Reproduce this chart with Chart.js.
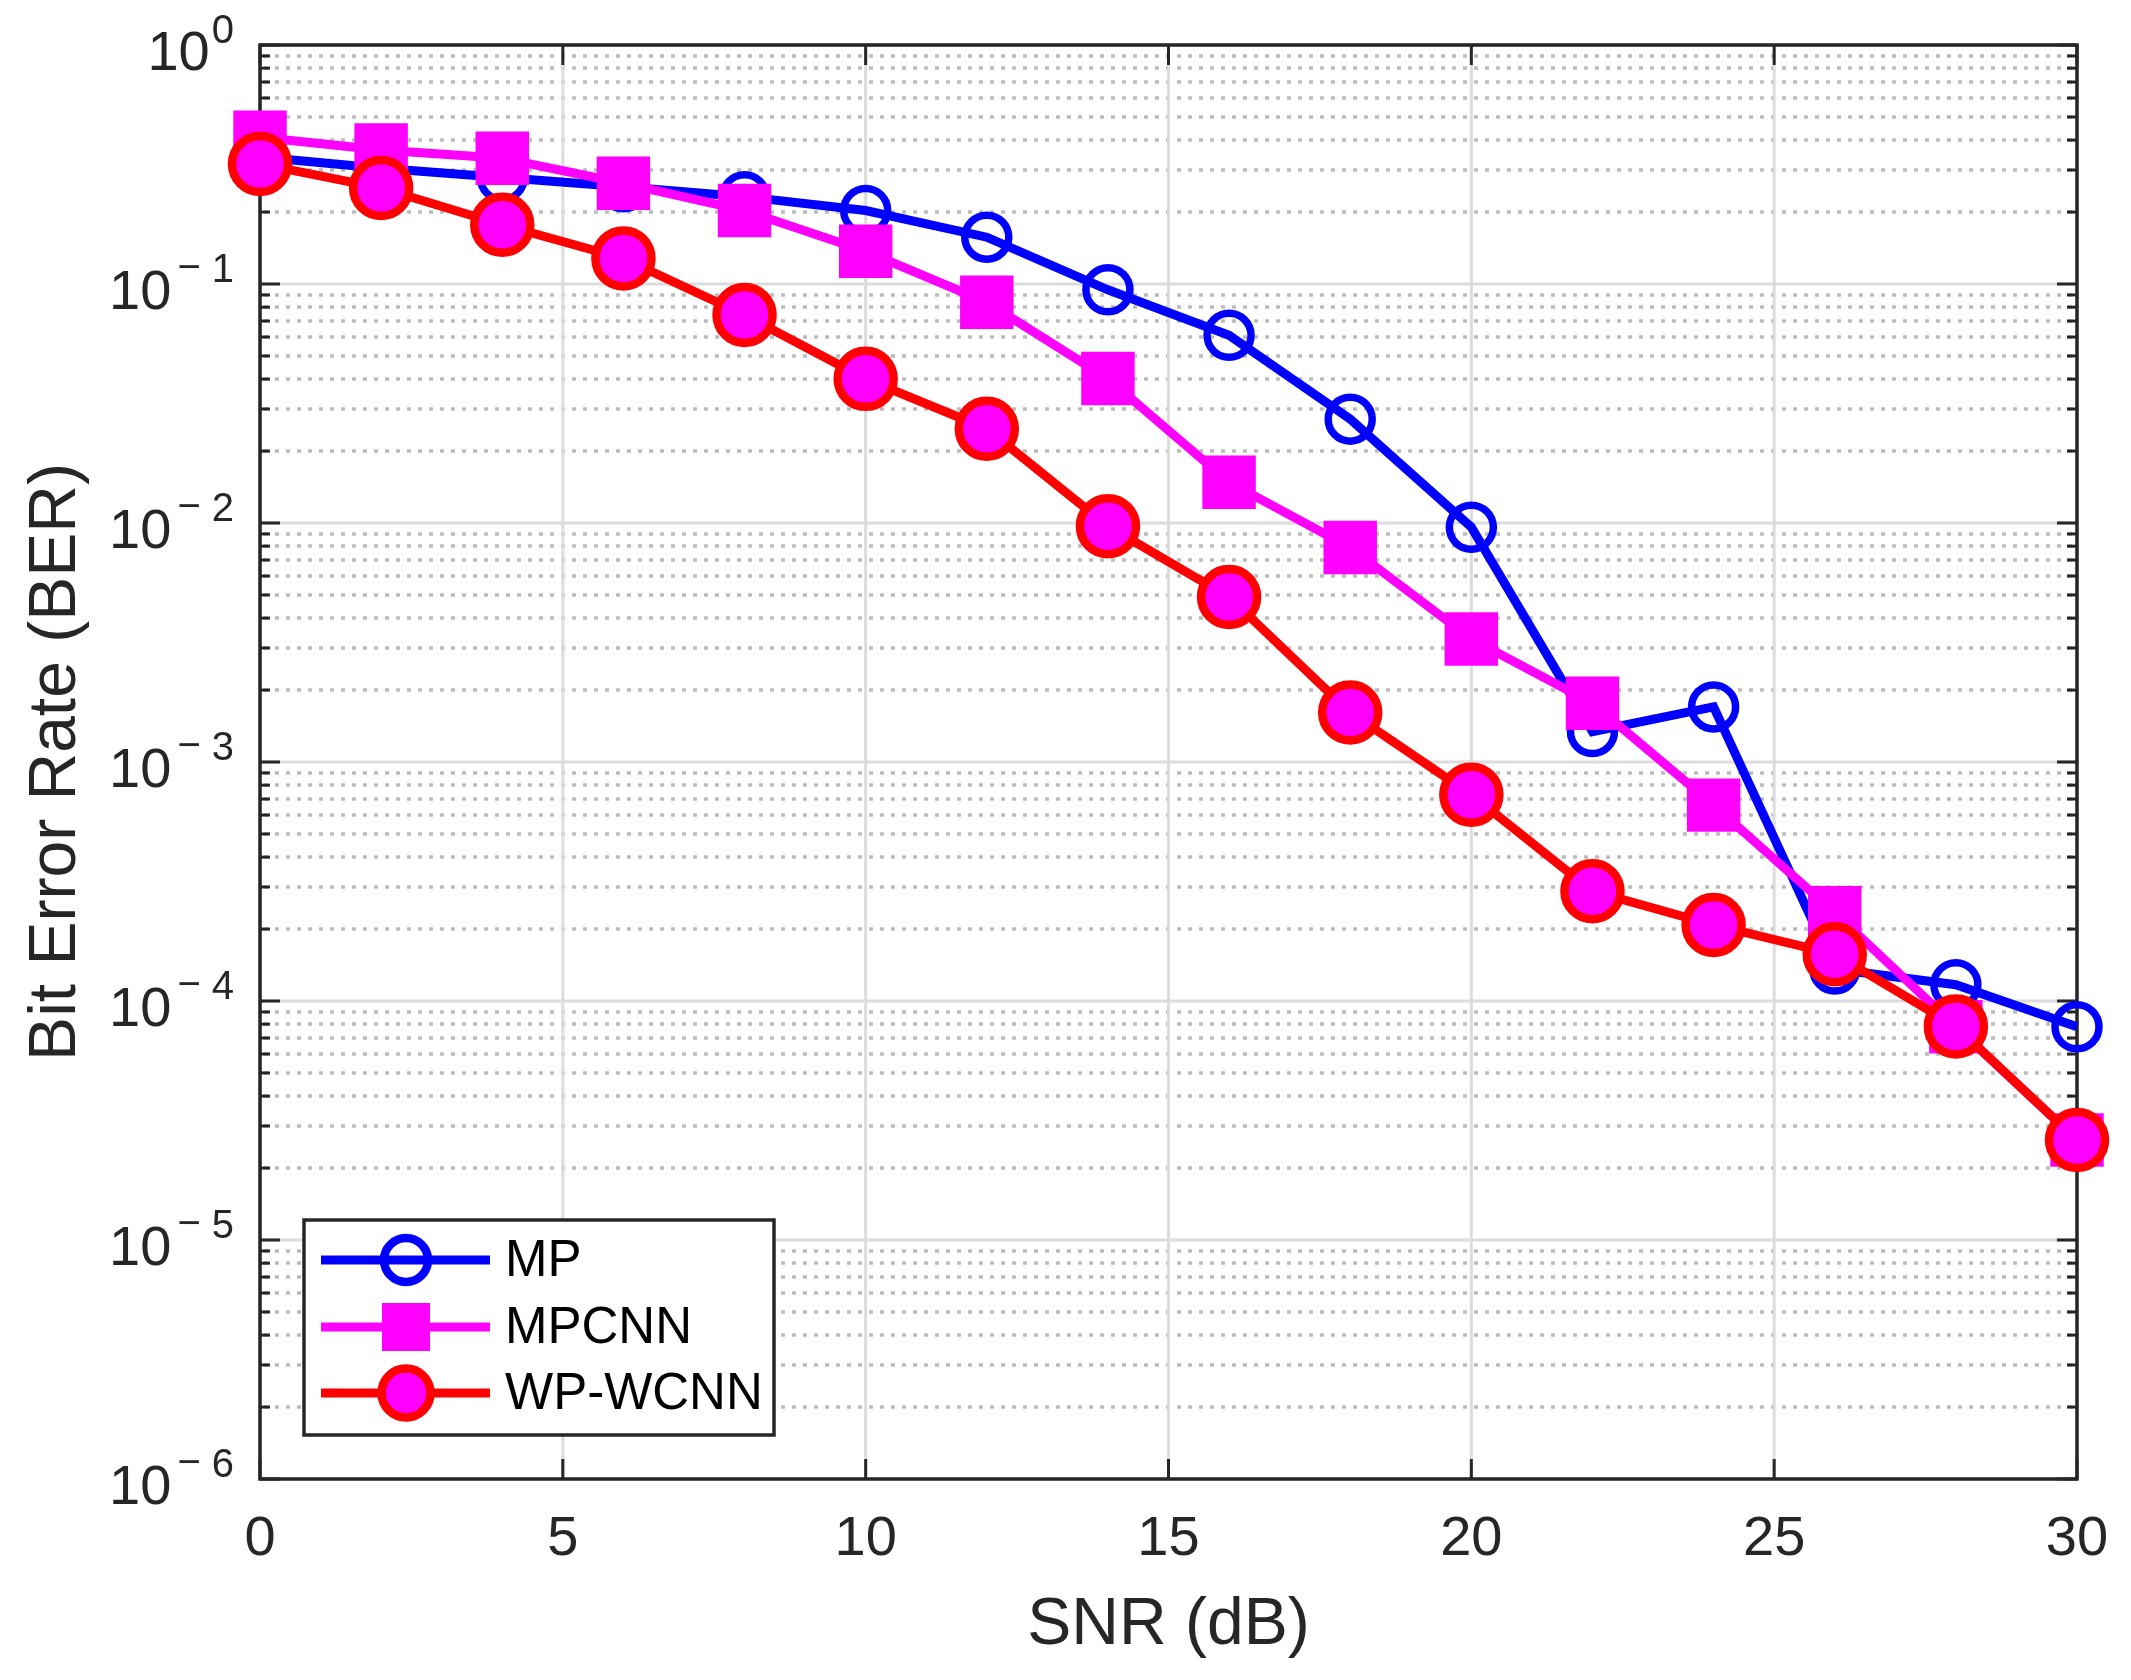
<!DOCTYPE html>
<html>
<head>
<meta charset="utf-8">
<script src="https://cdn.jsdelivr.net/npm/chart.js@4.4.1/dist/chart.umd.min.js"></script>
<style>
  html, body { margin: 0; padding: 0; background: #ffffff; }
  #wrap { width: 2131px; height: 1680px; }
  canvas { display: block; }
</style>
</head>
<body>
<div id="wrap"><canvas id="c" width="2131" height="1680" style="width:2131px;height:1680px"></canvas></div>
<script>
// ---- data ----
const snrDb = [0, 2, 4, 6, 8, 10, 12, 14, 16, 18, 20, 22, 24, 26, 28, 30];
const berMP = [0.34, 0.305, 0.279, 0.255, 0.232, 0.203, 0.157, 0.0946, 0.061, 0.0272, 0.0096, 0.00134, 0.0017, 0.000136, 0.000117, 0.000078];
const berMPCNN = [0.411, 0.364, 0.336, 0.264, 0.203, 0.137, 0.0838, 0.0402, 0.0148, 0.0079, 0.00327, 0.00176, 0.00066, 0.000234, 0.000078, 0.0000262];
const berWPWCNN = [0.318, 0.252, 0.177, 0.128, 0.0742, 0.0401, 0.0248, 0.0097, 0.0049, 0.00161, 0.00073, 0.000288, 0.000208, 0.000157, 0.0000783, 0.0000262];
const seriesNames = ['MP', 'MPCNN', 'WP-WCNN'];
const xTickValues = [0, 5, 10, 15, 20, 25, 30];
const yTickExponents = [0, -1, -2, -3, -4, -5, -6];
const xTitle = 'SNR (dB)';
const yTitle = 'Bit Error Rate (BER)';

const AX = '#262626';
const FONT = '"Liberation Sans", Arial, Helvetica, sans-serif';

const blue = '#0000ff', magenta = '#ff00ff', red = '#ff0000';

function pts(ys) { return snrDb.map((x, i) => ({ x: x, y: ys[i] })); }

const gridPlugin = {
  id: 'matlabAxes',
  beforeDatasetsDraw(chart) {
    const ctx = chart.ctx;
    const ca = chart.chartArea;
    const xs = chart.scales.x, ys = chart.scales.y;
    ctx.save();
    // minor dotted grid
    ctx.strokeStyle = '#bcbcbc';
    ctx.lineWidth = 3.5;
    ctx.setLineDash([4, 7]);
    for (let k = -6; k < 0; k++) {
      for (let m = 2; m <= 9; m++) {
        const y = Math.round(ys.getPixelForValue(m * Math.pow(10, k)));
        ctx.beginPath(); ctx.moveTo(ca.left + 4, y); ctx.lineTo(ca.right - 2, y); ctx.stroke();
      }
    }
    ctx.setLineDash([]);
    // major grid
    ctx.strokeStyle = '#dcdcdc';
    ctx.lineWidth = 3;
    yTickExponents.forEach(e => {
      const y = ys.getPixelForValue(Math.pow(10, e));
      ctx.beginPath(); ctx.moveTo(ca.left, y); ctx.lineTo(ca.right, y); ctx.stroke();
    });
    xTickValues.forEach(v => {
      const x = xs.getPixelForValue(v);
      ctx.beginPath(); ctx.moveTo(x, ca.top); ctx.lineTo(x, ca.bottom); ctx.stroke();
    });
    // ticks
    ctx.strokeStyle = AX;
    ctx.lineWidth = 3;
    for (let k = -6; k <= 0; k++) {
      for (let m = 1; m <= 9; m++) {
        const v = m * Math.pow(10, k);
        if (v > 1.0000001) continue;
        const y = ys.getPixelForValue(v);
        const len = (m === 1) ? 20 : 10;
        ctx.beginPath(); ctx.moveTo(ca.left, y); ctx.lineTo(ca.left + len, y); ctx.stroke();
        ctx.beginPath(); ctx.moveTo(ca.right, y); ctx.lineTo(ca.right - len, y); ctx.stroke();
      }
    }
    xTickValues.forEach(v => {
      const x = xs.getPixelForValue(v);
      ctx.beginPath(); ctx.moveTo(x, ca.bottom); ctx.lineTo(x, ca.bottom - 20); ctx.stroke();
      ctx.beginPath(); ctx.moveTo(x, ca.top); ctx.lineTo(x, ca.top + 20); ctx.stroke();
    });
    // box
    ctx.lineWidth = 3.5;
    ctx.strokeRect(ca.left, ca.top, ca.right - ca.left, ca.bottom - ca.top);

    // tick labels
    ctx.fillStyle = AX;
    ctx.textBaseline = 'middle';
    ctx.textAlign = 'center';
    ctx.font = '56px ' + FONT;
    xTickValues.forEach(v => {
      ctx.fillText(String(v), xs.getPixelForValue(v), ca.bottom + 61);
    });
    const rightEdge = ca.left - 26;
    yTickExponents.forEach(e => {
      const y = ys.getPixelForValue(Math.pow(10, e));
      ctx.font = '40px ' + FONT;
      const digit = String(Math.abs(e));
      const dw = ctx.measureText(digit).width;
      let left = rightEdge - dw;
      ctx.textAlign = 'left';
      ctx.fillText(digit, left, y - 13);
      if (e < 0) {
        const mw = ctx.measureText('\u2212').width;
        left = left - 11 - mw;
        ctx.fillText('\u2212', left, y - 15);
      }
      ctx.font = '56px ' + FONT;
      ctx.textAlign = 'right';
      ctx.fillText('10', left - (e < 0 ? 6 : 2), y + 10);
    });
    // axis titles
    ctx.font = '66px ' + FONT;
    ctx.textAlign = 'center';
    ctx.fillText(xTitle, (ca.left + ca.right) / 2, 1626);
    ctx.save();
    ctx.translate(57, (ca.top + ca.bottom) / 2);
    ctx.rotate(-Math.PI / 2);
    ctx.fillText(yTitle, 0, 0);
    ctx.restore();
    ctx.restore();
  },
  afterDatasetsDraw(chart) {
    const ctx = chart.ctx;
    const box = { x: 304, y: 1220, w: 470, h: 215 };
    ctx.save();
    ctx.fillStyle = '#ffffff';
    ctx.fillRect(box.x, box.y, box.w, box.h);
    ctx.strokeStyle = AX;
    ctx.lineWidth = 3.5;
    ctx.strokeRect(box.x, box.y, box.w, box.h);
    const rows = [1260, 1327, 1393];
    chart.data.datasets.forEach((ds, i) => {
      const y = rows[i];
      ctx.strokeStyle = ds.borderColor;
      ctx.lineWidth = 9;
      ctx.beginPath(); ctx.moveTo(321, y); ctx.lineTo(490, y); ctx.stroke();
      const cx = 406;
      if (ds.pointStyle === 'rect') {
        ctx.fillStyle = ds.pointBackgroundColor;
        ctx.fillRect(cx - 24, y - 24, 48, 48);
      } else {
        ctx.beginPath();
        ctx.arc(cx, y, i === 0 ? 22 : 24.5, 0, Math.PI * 2);
        if (ds.pointBackgroundColor && ds.pointBackgroundColor !== 'rgba(0,0,0,0)') {
          ctx.fillStyle = ds.pointBackgroundColor; ctx.fill();
        }
        ctx.strokeStyle = ds.pointBorderColor;
        ctx.lineWidth = 8.5;
        ctx.stroke();
      }
      ctx.fillStyle = '#000000';
      ctx.font = '51px ' + FONT;
      ctx.textAlign = 'left';
      ctx.textBaseline = 'middle';
      ctx.fillText(ds.label, 505, y + 2);
    });
    ctx.restore();
  }
};

new Chart(document.getElementById('c'), {
  type: 'line',
  data: {
    datasets: [
      {
        label: seriesNames[0], data: pts(berMP), order: 2, clip: false,
        borderColor: blue, borderWidth: 9,
        pointStyle: 'circle', pointRadius: 22, pointBorderWidth: 7.5,
        pointBorderColor: blue, pointBackgroundColor: 'rgba(0,0,0,0)',
        tension: 0
      },
      {
        label: seriesNames[1], data: pts(berMPCNN), order: 1, clip: false,
        borderColor: magenta, borderWidth: 9,
        pointStyle: 'rect', pointRadius: 37.8, pointBorderWidth: 0,
        pointBorderColor: magenta, pointBackgroundColor: magenta,
        tension: 0
      },
      {
        label: seriesNames[2], data: pts(berWPWCNN), order: 0, clip: false,
        borderColor: red, borderWidth: 9,
        pointStyle: 'circle', pointRadius: 28, pointBorderWidth: 8.5,
        pointBorderColor: red, pointBackgroundColor: magenta,
        tension: 0
      }
    ]
  },
  options: {
    responsive: false,
    devicePixelRatio: 1,
    animation: false,
    layout: { padding: { top: 45, right: 54, left: 0, bottom: 0 } },
    plugins: { legend: { display: false }, tooltip: { enabled: false } },
    scales: {
      x: {
        type: 'linear', min: 0, max: 30,
        ticks: { display: false },
        grid: { display: false },
        border: { display: false },
        afterFit(s) { s.height = 201; }
      },
      y: {
        type: 'logarithmic', min: 1e-6, max: 1,
        ticks: { display: false },
        grid: { display: false },
        border: { display: false },
        afterFit(s) { s.width = 260; }
      }
    }
  },
  plugins: [gridPlugin]
});
</script>
</body>
</html>
